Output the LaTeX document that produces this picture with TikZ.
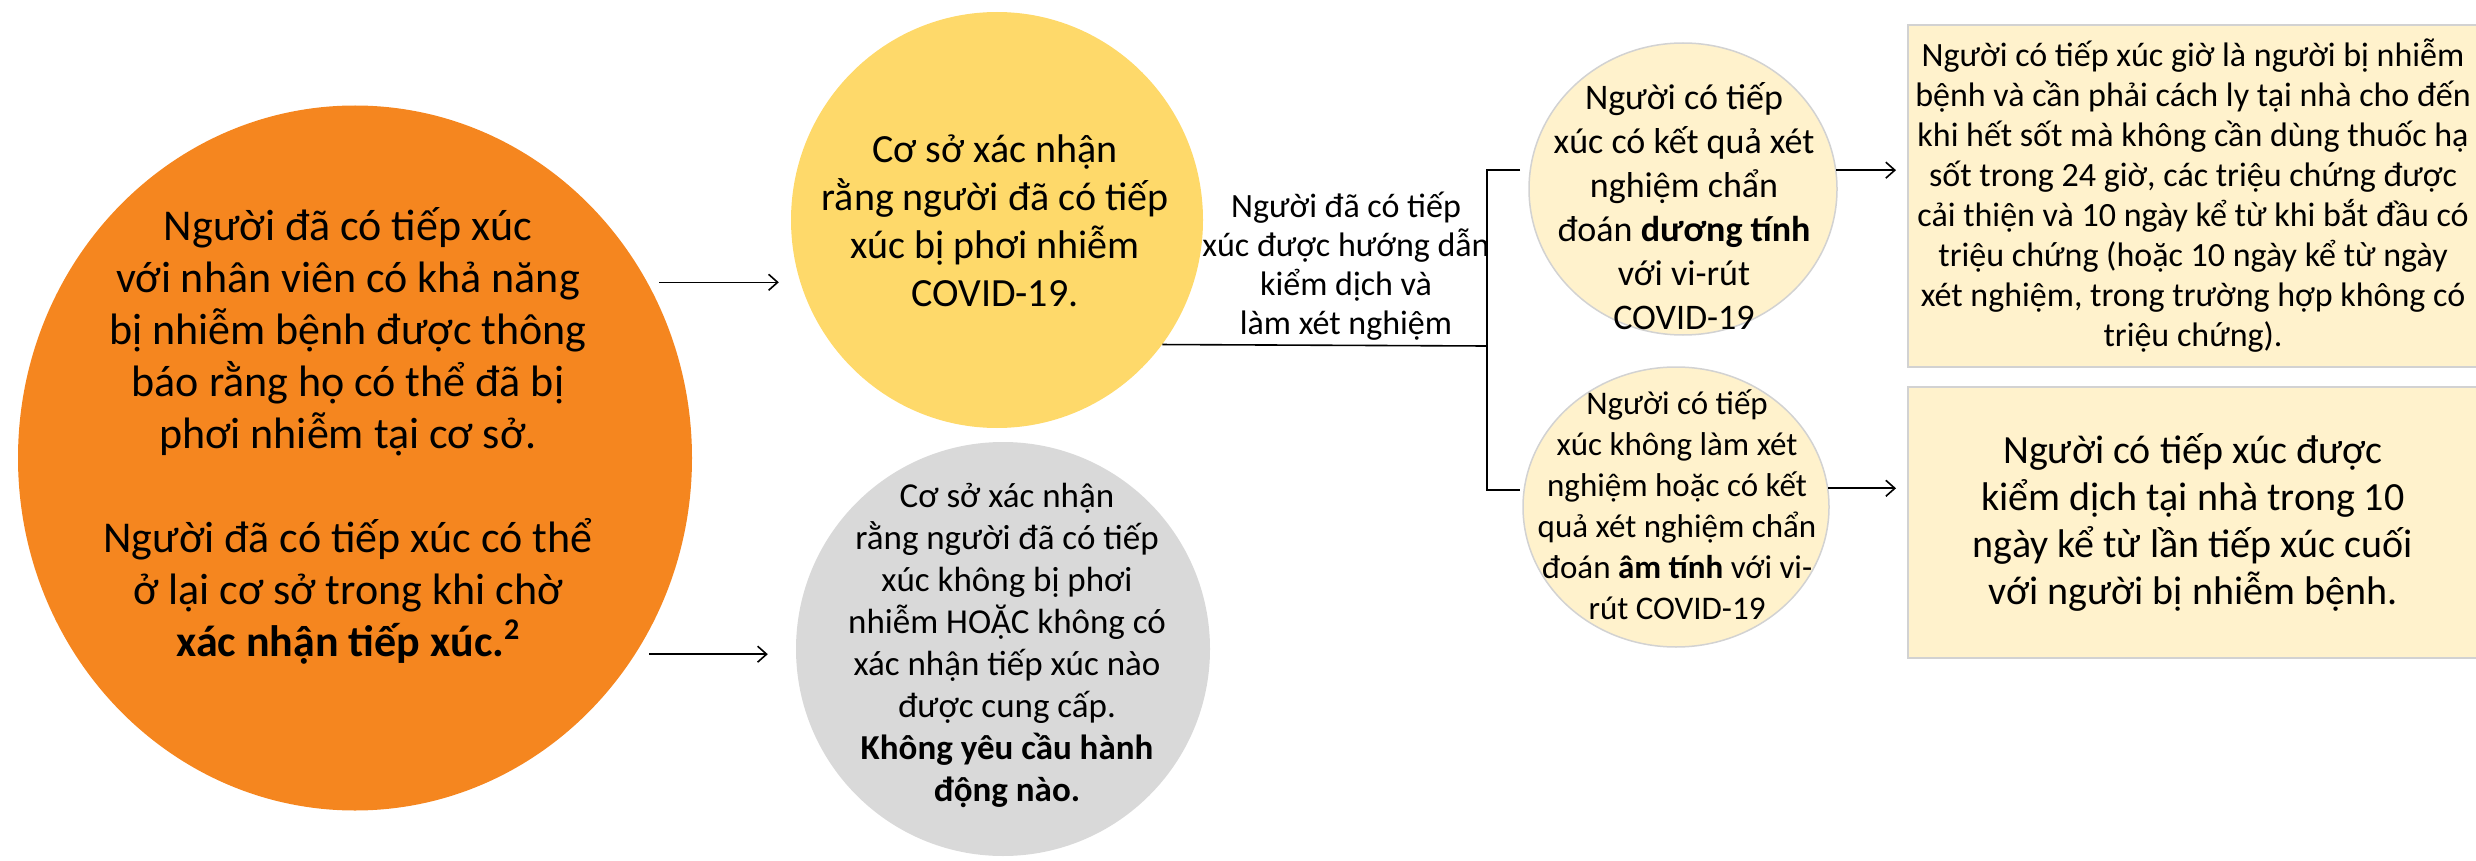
\documentclass[tikz,border=0pt]{standalone}
\usepackage{fontspec}
\setmainfont{Carlito}
\usetikzlibrary{shapes.geometric,arrows.meta}
\definecolor{orangefill}{RGB}{245,134,31}
\definecolor{yellowfill}{RGB}{254,217,106}
\definecolor{greyfill}{RGB}{217,217,217}
\definecolor{creamfill}{RGB}{255,242,204}
\definecolor{rimgrey}{RGB}{210,210,210}

\begin{document}
\begin{tikzpicture}[
x=1pt, y=-1pt,
bigshape/.style={ellipse, fill=orangefill, minimum width=674pt, minimum height=705pt, inner sep=0pt},
yelshape/.style={ellipse, fill=yellowfill, minimum width=412pt, minimum height=416pt, inner sep=0pt},
greyshape/.style={ellipse, fill=greyfill, minimum width=414pt, minimum height=414pt, inner sep=0pt},
roundnode/.style={ellipse, fill=creamfill, draw=rimgrey, line width=1.5pt, inner sep=0pt},
boxnode/.style={rectangle, fill=creamfill, draw=rimgrey, line width=2pt, minimum width=570pt, align=center, inner sep=0pt},
txt/.style={align=center, inner sep=0pt},
line/.style={line width=1.6pt},
arr/.style={line width=1.6pt, -{Straight Barb[length=9pt, width=16pt]}},
]
\useasboundingbox (0,0) rectangle (2476,861);

%Nodes
\node[bigshape]   (org) at (355,458) {};
\node[txt, font=\fontsize{44}{52}\selectfont] (orgtxt) at (348,436)
  {Người đã có tiếp xúc\\ với nhân viên có khả năng\\ bị nhiễm bệnh được thông\\ báo rằng họ có thể đã bị\\ phơi nhiễm tại cơ sở.\\[52pt]
   Người đã có tiếp xúc có thể\\ ở lại cơ sở trong khi chờ\\ \textbf{xác nhận tiếp xúc.\raisebox{17pt}{\fontsize{30}{30}\selectfont 2}}};

\node[yelshape]   (yel) at (997,220) {};
\node[txt, font=\fontsize{40}{48}\selectfont] (yeltxt) at (995,221)
  {Cơ sở xác nhận\\ rằng người đã có tiếp\\ xúc bị phơi nhiễm\\ COVID-19.};

\node[greyshape]  (gry) at (1003,649) {};
\node[txt, font=\fontsize{35}{42}\selectfont] (grytxt) at (1007,645)
  {Cơ sở xác nhận\\ rằng người đã có tiếp\\ xúc không bị phơi\\ nhiễm HOẶC không có\\ xác nhận tiếp xúc nào\\ được cung cấp.\\ \textbf{Không yêu cầu hành}\\ \textbf{động nào.}};

\node[txt, font=\fontsize{34}{39}\selectfont] (lab) at (1346,266)
  {Người đã có tiếp\\ xúc được hướng dẫn\\ kiểm dịch và\\ làm xét nghiệm};

\node[roundnode, minimum width=308pt, minimum height=292pt] (p1) at (1683,189) {};
\node[txt, font=\fontsize{36}{44}\selectfont] (p1txt) at (1684,206)
  {Người có tiếp\\ xúc có kết quả xét\\ nghiệm chẩn\\ đoán \textbf{dương tính}\\ với vi-rút\\ COVID-19};

\node[roundnode, minimum width=306pt, minimum height=280pt] (p2) at (1676,507) {};
\node[txt, font=\fontsize{33}{41}\selectfont] (p2txt) at (1677,505)
  {Người có tiếp\\ xúc không làm xét\\ nghiệm hoặc có kết\\ quả xét nghiệm chẩn\\ đoán \textbf{âm tính} với vi-\\ rút COVID-19};

\node[boxnode, minimum height=342pt, font=\fontsize{34}{40}\selectfont] (b1) at (2193,196)
  {Người có tiếp xúc giờ là người bị nhiễm\\ bệnh và cần phải cách ly tại nhà cho đến\\ khi hết sốt mà không cần dùng thuốc hạ\\ sốt trong 24 giờ, các triệu chứng được\\ cải thiện và 10 ngày kể từ khi bắt đầu có\\ triệu chứng (hoặc 10 ngày kể từ ngày\\ xét nghiệm, trong trường hợp không có\\ triệu chứng).};

\node[boxnode, minimum height=271pt, font=\fontsize{40}{47}\selectfont] (b2) at (2193,522)
  {Người có tiếp xúc được\\ kiểm dịch tại nhà trong 10\\ ngày kể từ lần tiếp xúc cuối\\ với người bị nhiễm bệnh.};

\coordinate (jn) at (1487,346);
\coordinate (t1) at (1520,170);
\coordinate (t2) at (1520,490);

%Lines
\draw[arr, shorten <=12pt, shorten >=12pt] (org.31) -- (org.31 -| yel.west);
\draw[arr, shorten <=14pt, shorten >=28pt] (org.-35) -- (org.-35 -| gry.west);
\draw[line] (yel.-37.5) -- (jn);
\draw[line] (t1) -| (jn) |- (t2);
\draw[arr, shorten >=11pt] (p1.7) -- (p1.7 -| b1.west);
\draw[arr, shorten >=11pt] (p2.7) -- (p2.7 -| b2.west);

\end{tikzpicture}
\end{document}
